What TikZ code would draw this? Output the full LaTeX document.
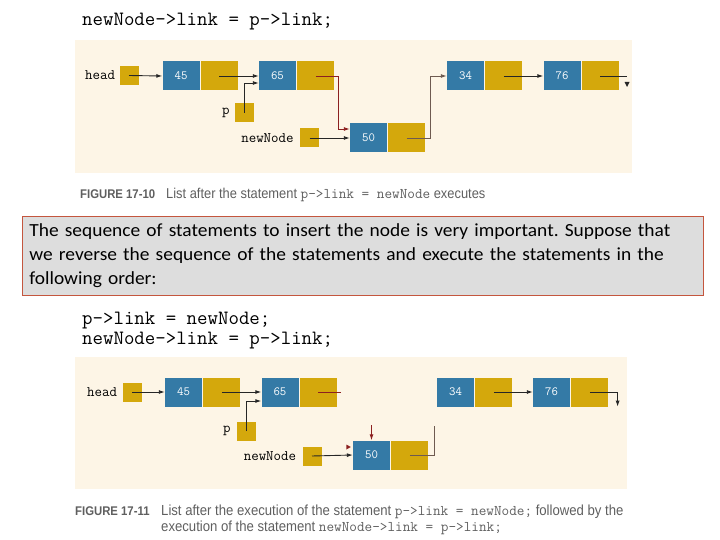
\documentclass[tikz,border=0pt]{standalone}
\usepackage{fontspec}
\setmainfont{Carlito}[FakeStretch=1.05]
\newfontfamily\capfont[FakeStretch=0.9]{Liberation Sans}
\usetikzlibrary{arrows.meta,positioning,calc}
\definecolor{panelbg}{RGB}{253,245,230}
\definecolor{datablue}{RGB}{52,122,166}
\definecolor{linkgold}{RGB}{212,168,12}
\definecolor{linkred}{RGB}{140,32,32}
\definecolor{linkbrown}{RGB}{110,90,80}
\definecolor{notegray}{RGB}{221,221,221}
\definecolor{noteedge}{RGB}{196,86,62}
\definecolor{capgray}{RGB}{95,95,95}
\tikzset{
  datacell/.style={fill=datablue,minimum width=37pt,minimum height=29pt,inner sep=0pt,
    text=white,font=\ttfamily\fontsize{12.5}{12.5}\selectfont},
  linkcell/.style={fill=linkgold,minimum width=37pt,minimum height=29pt,inner sep=0pt},
  ptrbox/.style={fill=linkgold,minimum size=19pt,inner sep=0pt},
  ptrname/.style={font=\ttfamily\fontsize{14.5}{14.5}\selectfont,inner sep=0pt},
  ptr/.style={-{Latex[length=6pt,width=4pt]},line width=0.9pt,draw=black!85},
  plainlink/.style={line width=0.9pt},
  codeline/.style={anchor=west,inner sep=0pt,font=\ttfamily\fontsize{20.3}{20.3}\selectfont},
  caption/.style={anchor=west,inner sep=0pt,text=capgray,font=\capfont\fontsize{14.3}{16}\selectfont}
}
\newcommand{\listnode}[3]{\node[datacell] (#1) at #2 {#3}; \node[linkcell,right=1pt of #1] (#1l) {};}
\newcommand{\tipfill}[2]{\fill[#1] #2 -- ++(-4.5,-2.5) -- ++(0,5) -- cycle;}
\newcommand{\capcode}[1]{{\ttfamily\fontsize{14.8}{14.8}\selectfont #1}}
\newcommand{\figtag}[1]{\makebox[86pt][l]{\fontsize{12.6}{12.6}\selectfont\bfseries #1}}

\begin{document}
\frenchspacing
\begin{tikzpicture}[x=1pt,y=-1pt]
\useasboundingbox (0,0) rectangle (720,540);

% figure 17-10
\node[codeline] (codeA) at (82,22) {newNode->link = p->link;};
\fill[panelbg] (75,40) rectangle (632,173);
\node[ptrbox] (headA) at (129,75.5) {};
\node[ptrname,left=4pt of headA] (headAname) {head};
\node[ptrbox] (pA) at (244.5,113) {};
\node[ptrname,left=5pt of pA] (pAname) {p};
\node[ptrbox] (newA) at (309.5,138) {};
\node[ptrname,left=6pt of newA] (newAname) {newNode};
\listnode{a45}{(181,76)}{45}
\listnode{a65}{(277.5,76)}{65}
\listnode{a50}{(368.5,138)}{50}
\listnode{a34}{(465.5,76)}{34}
\listnode{a76}{(562,76)}{76}
\draw[ptr] (headA.center) -- (a45.west);
\draw[ptr] (a45l.center) -- (a65.west);
\draw[ptr] (pA.center) |- ($(a65.west)+(0,7)$);
\draw[ptr,draw=linkred] (a65l.center) -- ($(a65l.east)+(4,0)$) |- ($(a50.west)+(0,-9)$);
\draw[ptr] (newA.center) -- (a50.west);
\draw[ptr,draw=linkbrown] (a50l.center) -- ($(a50l.east)+(5,0)$) |- (a34.west);
\draw[ptr] (a34l.center) -- (a76.west);
\draw[plainlink,draw=black!85] (a76l.center) -- ($(a76l.east)+(8,0)$) coordinate (endA);
\fill[black!85] ($(endA)+(-2.5,6)$) -- ++(5,0) -- ++(-2.5,5) -- cycle;
\node[caption] (capA) at (80,195) {\figtag{FIGURE 17-10}List after the statement \capcode{p->link = newNode} executes};

% note
\node[draw=noteedge,fill=notegray,line width=0.8pt,anchor=north west,minimum width=681pt,minimum height=79pt,
  text width=667pt,inner sep=7pt,align=left,font=\fontsize{18.5}{24}\selectfont] (note) at (22,216)
  {The sequence of statements to insert the node is very important. Suppose that\\
   we reverse the sequence of the statements and execute the statements in the\\
   following order:};

% figure 17-11
\node[codeline] (codeB1) at (82,321) {p->link = newNode;};
\node[codeline] (codeB2) at (82,341) {newNode->link = p->link;};
\fill[panelbg] (75,357) rectangle (627,489);
\node[ptrbox] (headB) at (132,392) {};
\node[ptrname,left=5pt of headB] (headBname) {head};
\node[ptrbox] (pB) at (246.5,431) {};
\node[ptrname,left=6pt of pB] (pBname) {p};
\node[ptrbox] (newB) at (312,456) {};
\node[ptrname,left=6pt of newB] (newBname) {newNode};
\listnode{b45}{(183.5,392)}{45}
\listnode{b65}{(280,392)}{65}
\listnode{b50}{(371.5,455)}{50}
\listnode{b34}{(455.5,392)}{34}
\listnode{b76}{(551.5,392)}{76}
\draw[ptr] (headB.center) -- (b45.west);
\draw[ptr] (b45l.center) -- (b65.west);
\draw[ptr] (pB.center) |- ($(b65.west)+(0,9)$);
\draw[plainlink,draw=linkred] (b65l.center) -- ($(b65l.east)+(4,0)$);
\draw[ptr] (newB.center) -- (b50.west);
\draw[ptr,draw=linkred] ($(b50.north)+(0,-15)$) -- (b50.north);
\tipfill{linkred}{($(b50.west)+(-2,-8)$)}
\draw[plainlink,draw=linkbrown] (b50l.center) -- ($(b50l.east)+(6,0)$) -- ++(0,-29);
\draw[ptr] (b34l.center) -- (b76.west);
\draw[ptr] (b76l.center) -| ($(b76l.south east)+(9,0)$);
\node[caption,anchor=north west,font=\capfont\fontsize{14.6}{16}\selectfont] (capB) at (75,504) {\begin{tabular}{@{}l@{}l@{}}
  \figtag{FIGURE 17-11} & List after the execution of the statement \capcode{p->link = newNode;} followed by the\\
  & execution of the statement \capcode{newNode->link = p->link;}
\end{tabular}};
\end{tikzpicture}
\end{document}
